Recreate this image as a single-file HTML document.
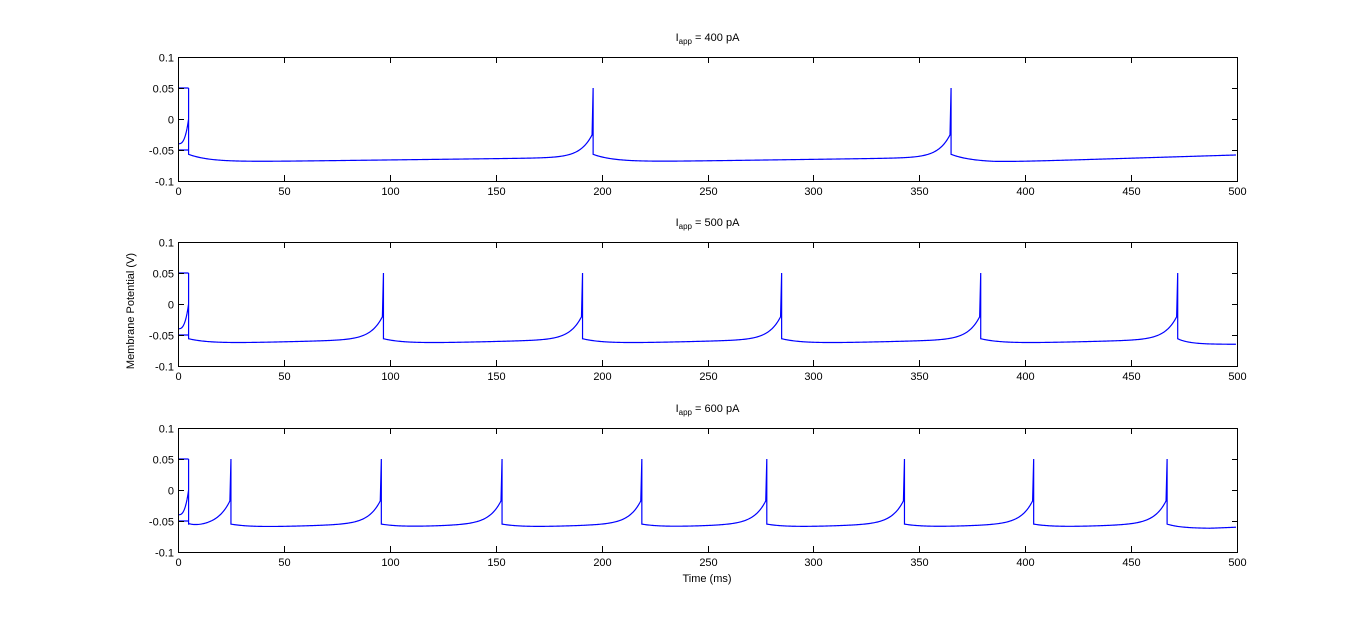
<!DOCTYPE html>
<html><head><meta charset="utf-8">
<style>
html,body{margin:0;padding:0;background:#fff;}
svg{display:block;font-family:"Liberation Sans",sans-serif;}
</style></head>
<body>
<svg id="fig" width="1366" height="619" viewBox="0 0 1366 619" xmlns="http://www.w3.org/2000/svg">
<rect x="0" y="0" width="1366" height="619" fill="#fff"/>
<text x="134" y="311" font-size="11" text-anchor="middle" transform="rotate(-90 134 311)">Membrane Potential (V)</text>
<text x="707" y="582" font-size="11" text-anchor="middle">Time (ms)</text>
</svg>
<script>
const xTicks=[0,50,100,150,200,250,300,350,400,450,500];
const yTicks=[0.1,0.05,0,-0.05,-0.1];
const yTickLabels=["0.1","0.05","0","-0.05","-0.1"];
const currents=[400,500,600];
const spikes400=[5,196,365];
const spikes500=[5,97,191,285,379,472];
const spikes600=[5,25,96,153,219,278,343,404,467];
const resetV=[-0.057,-0.056,-0.055];
const minV=[-0.07,-0.065,-0.062];
const endV=[-0.058,-0.065,-0.06];
const allSpikes=[spikes400,spikes500,spikes600];
const panelTops=[57,242,428];
const NS="http://www.w3.org/2000/svg";
const svg=document.getElementById('fig');
const X0=178,X1=1237,H=124;
function sx(t){return X0+(t/500)*(X1-X0);}
function mk(tag,attrs){const e=document.createElementNS(NS,tag);for(const k in attrs)e.setAttribute(k,attrs[k]);svg.appendChild(e);return e;}
function trace(spk,vr,vm,ve){
  const pts=[];
  for(let t=0;t<=spk[0];t+=0.25){pts.push([t,-0.04+0.04*Math.pow(t/spk[0],3)]);}
  pts.push([spk[0],0.05]);
  for(let i=0;i<spk.length;i++){
    const a=spk[i],b=i+1<spk.length?spk[i+1]:null;
    pts.push([a,vr]);
    const end=b===null?500:b;
    const L=end-a;
    for(let t=a+0.5;t<end;t+=0.5){
      const d=t-a;
      let v=vr+(vm-vr)*(1-Math.exp(-d/Math.min(10,L/5)));
      if(b!==null){
        v+=(0.008)*(d/L);
        v+=0.04*Math.exp((t-b)/5.5);
      } else {
        v+=(ve-vm)*Math.max(0,(d-20)/Math.max(1,L-20));
      }
      pts.push([t,Math.min(v,0.05)]);
    }
    if(b!==null)pts.push([b,0.05]);
  }
  return pts;
}
for(let p=0;p<3;p++){
  const top=panelTops[p];
  const sy=v=>top+(0.1-v)/0.2*H;
  const g=mk('g',{});
  
  
  const t=mk('text',{x:(X0+X1)/2,y:top-16,'font-size':11,'text-anchor':'middle'});
  
  
  t.innerHTML='I<tspan font-size="8" dy="3">app</tspan><tspan dy="-3"> = '+currents[p]+' pA</tspan>';
  const spk=allSpikes[p];
  const pts=trace(spk,resetV[p],minV[p],endV[p]);
  let d='M'+pts.map(q=>sx(q[0]).toFixed(2)+','+sy(q[1]).toFixed(2)).join(' L');
  d+=' M'+sx(0)+','+sy(0.05)+' L'+sx(spk[0])+','+sy(0.05);
  d+=' M'+sx(0)+','+sy(-0.05)+' L'+sx(spk[0])+','+sy(-0.05);
  const line=mk('path',{d:d,fill:'none',stroke:'#0000ff','stroke-width':1.2});
  
  
  const box=mk('rect',{x:X0+0.5,y:top+0.5,width:X1-X0,height:H,fill:'none',stroke:'#000','stroke-width':1});
  
  
  xTicks.forEach(v=>{
    const x=Math.round(sx(v))+0.5;
    mk('line',{x1:x,x2:x,y1:top+H,y2:top+H-6,stroke:'#000'});
    mk('line',{x1:x,x2:x,y1:top,y2:top+6,stroke:'#000'});
    const l=mk('text',{x:x,y:top+H+14,'font-size':11,'text-anchor':'middle'});
    
    
    l.textContent=v;
  });
  yTicks.forEach((v,i)=>{
    const y=Math.round(sy(v))+0.5;
    mk('line',{x1:X0,x2:X0+6,y1:y,y2:y,stroke:'#000'});
    mk('line',{x1:X1+1,x2:X1-5,y1:y,y2:y,stroke:'#000'});
    const l=mk('text',{x:X0-4,y:y+4,'font-size':11,'text-anchor':'end'});
    
    
    l.textContent=yTickLabels[i];
  });
}
</script>
</body></html>
